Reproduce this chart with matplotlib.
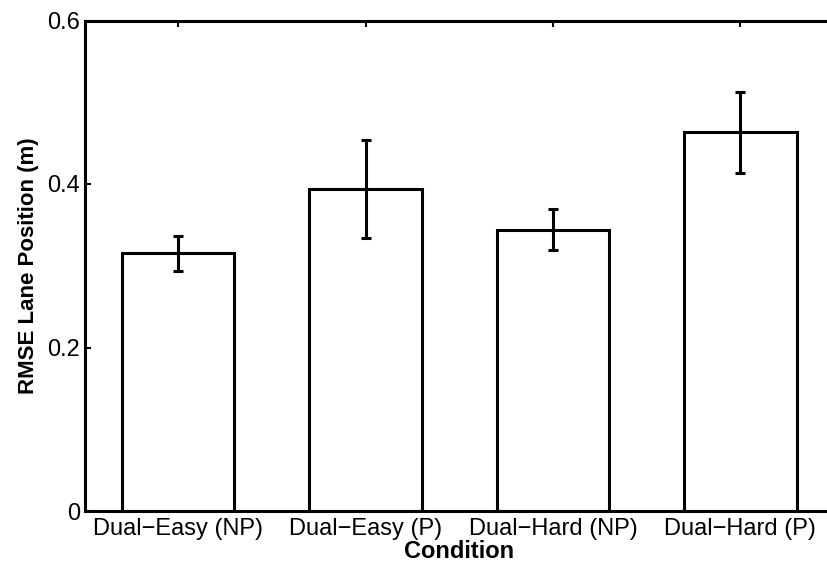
import matplotlib
matplotlib.use("Agg")
import matplotlib.pyplot as plt
import numpy as np

conditions = ['Dual\u2212Easy (NP)', 'Dual\u2212Easy (P)', 'Dual\u2212Hard (NP)', 'Dual\u2212Hard (P)']
means = [0.315, 0.394, 0.344, 0.463]
errors = [0.022, 0.060, 0.025, 0.050]
yticks = [0, 0.2, 0.4, 0.6]

plt.rcParams['font.family'] = ['Liberation Sans', 'DejaVu Sans']

fig = plt.figure(figsize=(8.27, 5.64), dpi=100)
# axes runs past the right edge like the cropped original
ax = fig.add_axes([84.5 / 827, 53 / 564, 749.5 / 827, 490.5 / 564])

x = np.arange(1, len(conditions) + 1)
ax.bar(x, means, width=0.6, color='white', edgecolor='black', linewidth=2.2, zorder=2)
ax.errorbar(x, means, yerr=errors, fmt='none', ecolor='black', elinewidth=2.2,
            capsize=3.6, capthick=2.2, zorder=3)

ax.set_xlim(0.5, 4.5)
ax.set_ylim(0, 0.6)
ax.set_xticks(x)
ax.set_xticklabels(conditions)
ax.set_yticks(yticks)
ax.set_yticklabels(['0', '0.2', '0.4', '0.6'])

for s in ax.spines.values():
    s.set_linewidth(2.2)

ax.tick_params(direction='in', length=4.5, width=1.5, top=True, right=True,
               labelsize=17, pad=3)
ax.tick_params(axis='x', pad=5)
ax.set_xlabel('Condition', fontsize=17, fontweight='bold', labelpad=0)
ax.set_ylabel('RMSE Lane Position (m)', fontsize=16, fontweight='bold', labelpad=6)

fig.savefig('out.png', dpi=100)
